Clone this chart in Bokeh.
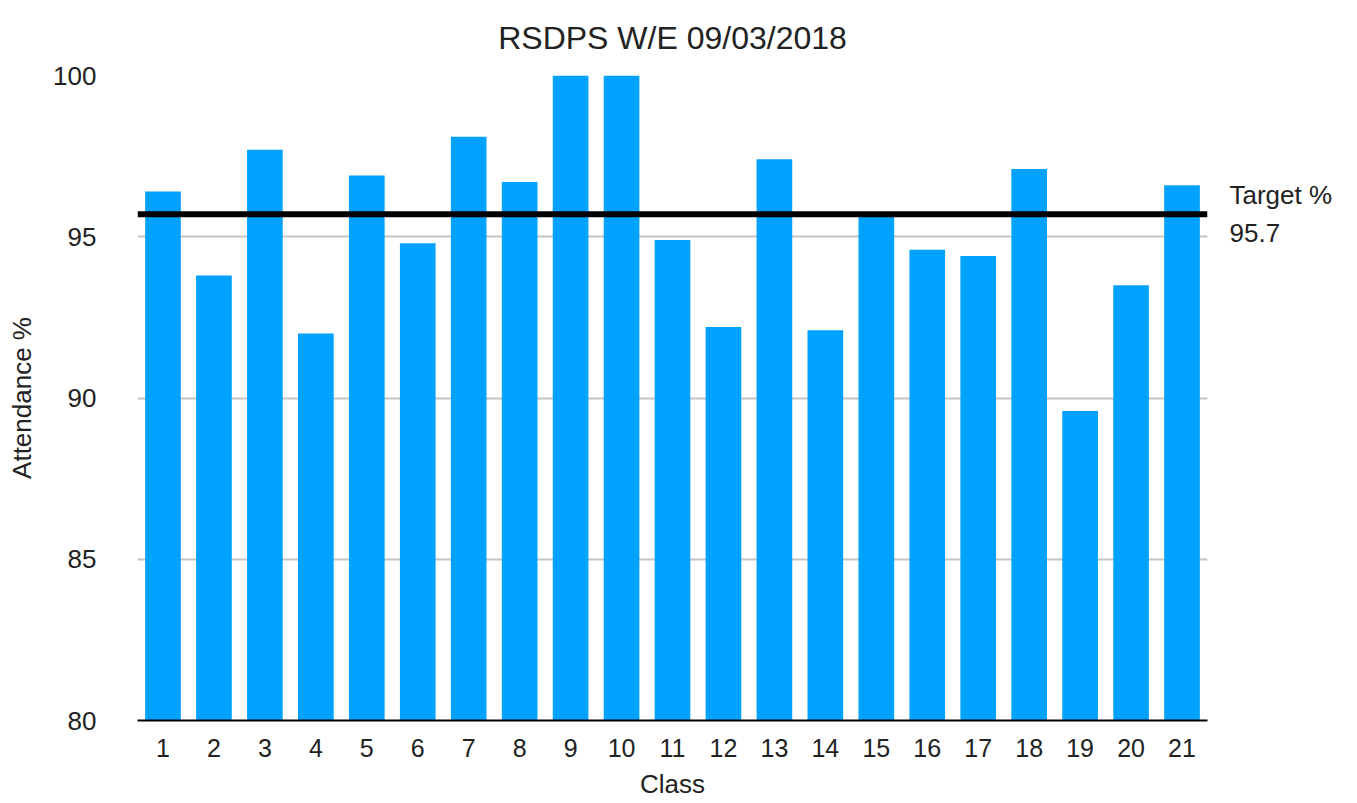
from bokeh.plotting import figure
from bokeh.models import Span, FactorRange, LinearAxis, FixedTicker
from bokeh.embed import file_html
from bokeh.resources import INLINE

classes = [str(i) for i in range(1, 22)]
attendance = [96.4, 93.8, 97.7, 92.0, 96.9, 94.8, 98.1, 96.7, 100.0, 100.0, 94.9,
              92.2, 97.4, 92.1, 95.7, 94.6, 94.4, 97.1, 89.6, 93.5, 96.6]
target = 95.7
target_label = "Target %"
y_ticks = [80, 85, 90, 95, 100]
title_text = "RSDPS W/E 09/03/2018"

FONT = "Liberation Sans"
TXT = "#222222"

p = figure(x_range=FactorRange(*classes), y_range=(80, 100),
           width=1357, height=803, output_backend="svg", toolbar_location=None,
           title=title_text,
           min_border_left=137, min_border_right=150, min_border_top=75,
           min_border_bottom=83)

p.vbar(x=classes, top=attendance, bottom=80, width=0.7, fill_color="#00a2ff",
       line_color=None)

p.add_layout(Span(location=target, dimension="width", line_color="black",
                  line_width=6))

# target label on a right-hand axis
raxis = LinearAxis(ticker=FixedTicker(ticks=[target]),
                   major_label_overrides={target: f"{target_label}\n{target}"})
raxis.axis_line_color = None
raxis.major_tick_line_color = None
raxis.minor_tick_line_color = None
raxis.major_label_standoff = 16
raxis.major_label_text_font = FONT
raxis.major_label_text_font_size = "26px"
raxis.major_label_text_color = TXT
raxis.major_label_text_line_height = 1.25
p.add_layout(raxis, "right")

p.title.text_font = FONT
p.title.text_font_size = "32px"
p.title.text_font_style = "normal"
p.title.text_color = TXT
p.title.align = "center"
p.title.vertical_align = "top"
p.title.text_line_height = 0.5
p.title.standoff = 36

p.outline_line_color = None
p.background_fill_color = "white"
p.border_fill_color = "white"

p.xgrid.grid_line_color = None
p.ygrid.grid_line_color = "#c4c4c4"
p.ygrid.grid_line_width = 2

yax = p.yaxis[0]
yax.ticker = y_ticks
yax.axis_line_color = None
yax.major_tick_line_color = None
yax.minor_tick_line_color = None
yax.major_label_standoff = 35
yax.axis_label = "Attendance %"
yax.axis_label_standoff = 13
yax.major_label_text_font_size = "26px"

xax = p.xaxis[0]
xax.axis_line_color = "black"
xax.axis_line_width = 2
xax.major_tick_line_color = None
xax.minor_tick_line_color = None
xax.major_label_standoff = 12
xax.axis_label = "Class"
xax.axis_label_standoff = 9
xax.major_label_text_font_size = "25px"

for ax in (xax, yax):
    ax.major_label_text_font = FONT
    ax.major_label_text_color = TXT
    ax.axis_label_text_font = FONT
    ax.axis_label_text_font_size = "26px"
    ax.axis_label_text_font_style = "normal"
    ax.axis_label_text_color = TXT

open("out.html", "w").write(file_html(p, INLINE))
